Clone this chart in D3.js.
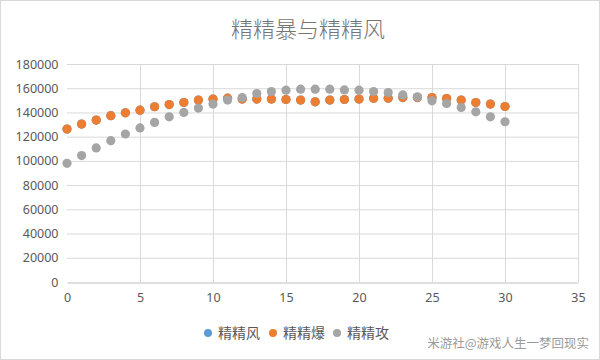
<!DOCTYPE html>
<html>
<head>
<meta charset="utf-8">
<script src="https://cdn.jsdelivr.net/npm/d3@7"></script>
<style>
  body { margin: 0; background: #fff; }
  #chart { width: 600px; height: 360px; }
  text { font-family: "Noto Sans CJK SC", "Noto Sans", sans-serif; }
</style>
</head>
<body>
<div id="chart"></div>
<script>
// values, x = 0..30
var xs = d3.range(0, 31);
var seriesNames = ["精精风", "精精爆", "精精攻"];
var seriesColors = ["#5B9BD5", "#ED7D31", "#A5A5A5"];
// 精精风 sits exactly under 精精爆, so it is hidden in the picture
var fengVals = [126300, 130400, 133700, 137300, 139700, 141900, 144700, 146500, 148200, 150200,
  151000, 151800, 151000, 151000, 151000, 150700, 150200, 148800, 150200, 150700,
  151000, 151800, 151800, 152300, 152300, 152300, 151500, 150200, 148200, 146900, 144900];
var baoVals = [126300, 130400, 133700, 137300, 139700, 141900, 144700, 146500, 148200, 150200,
  151000, 151800, 151000, 151000, 151000, 150700, 150200, 148800, 150200, 150700,
  151000, 151800, 151800, 152300, 152300, 152300, 151500, 150200, 148200, 146900, 144900];
var gongVals = [98000, 104400, 110700, 116700, 122200, 127200, 131800, 136400, 140000, 143600,
  146900, 150200, 152300, 155600, 157200, 158400, 159200, 159200, 159200, 158600,
  158400, 157200, 156400, 154500, 152900, 149600, 147400, 144100, 140500, 136400, 132300];
var xTicks = [0, 5, 10, 15, 20, 25, 30, 35];
var yTicks = [0, 20000, 40000, 60000, 80000, 100000, 120000, 140000, 160000, 180000];

var W = 600, H = 360;
var svg = d3.select("#chart").append("svg").attr("width", W).attr("height", H);

svg.append("rect").attr("x", 0.5).attr("y", 0.5).attr("width", W - 1).attr("height", H - 1)
  .attr("fill", "#fff").attr("stroke", "#D9D9D9");

var x = d3.scaleLinear().domain([0, 35]).range([67, 578]);
var y = d3.scaleLinear().domain([0, 180000]).range([282, 64]);

// grid
svg.append("g").selectAll("line").data(yTicks.slice(1)).enter().append("line")
  .attr("x1", x(0)).attr("x2", x(35))
  .attr("y1", function(d) { return y(d) + 0.5; }).attr("y2", function(d) { return y(d) + 0.5; })
  .attr("stroke", "#D9D9D9");
svg.append("g").selectAll("line").data(xTicks.slice(1)).enter().append("line")
  .attr("x1", function(d) { return Math.round(x(d)) + 0.5; }).attr("x2", function(d) { return Math.round(x(d)) + 0.5; })
  .attr("y1", y(0)).attr("y2", y(180000))
  .attr("stroke", "#D9D9D9");

// axes
var yAxis = svg.append("g").attr("transform", "translate(" + (x(0) + 0.5) + ",0)")
  .call(d3.axisLeft(y).tickValues(yTicks).tickSize(0).tickPadding(9).tickFormat(d3.format("d")));
var xAxis = svg.append("g").attr("transform", "translate(0," + (y(0) + 0.5) + ")")
  .call(d3.axisBottom(x).tickValues(xTicks).tickSize(0).tickPadding(11));
[yAxis, xAxis].forEach(function(a) {
  a.select(".domain").attr("stroke", "#BFBFBF");
  a.selectAll("text").attr("fill", "#595959").style("font-size", "12.5px")
    .style("font-family", "'Noto Sans', sans-serif");
});
yAxis.select(".domain").remove();

// points
var allVals = [fengVals, baoVals, gongVals];
allVals.forEach(function(vals, i) {
  svg.append("g").selectAll("circle").data(vals).enter().append("circle")
    .attr("cx", function(d, j) { return x(xs[j]); })
    .attr("cy", function(d) { return y(d); })
    .attr("r", 4.6)
    .attr("fill", seriesColors[i]);
});

// title
svg.append("text").attr("x", 308).attr("y", 37).attr("text-anchor", "middle")
  .attr("fill", "#757575").style("font-size", "22px").style("font-weight", "300")
  .text("精精暴与精精风");

// legend
var legX = [208, 273, 337];
var leg = svg.append("g").selectAll("g").data(seriesNames).enter().append("g")
  .attr("transform", function(d, i) { return "translate(" + legX[i] + ",333)"; });
leg.append("circle").attr("r", 4).attr("fill", function(d, i) { return seriesColors[i]; });
leg.append("text").attr("x", 10).attr("y", 5).attr("fill", "#595959")
  .style("font-size", "14px").text(function(d) { return d; });

// watermark
svg.append("text").attr("x", 589).attr("y", 348).attr("text-anchor", "end")
  .attr("fill", "#9A9A9A").style("font-size", "12.5px").text("米游社@游戏人生一梦回现实");
</script>
</body>
</html>
